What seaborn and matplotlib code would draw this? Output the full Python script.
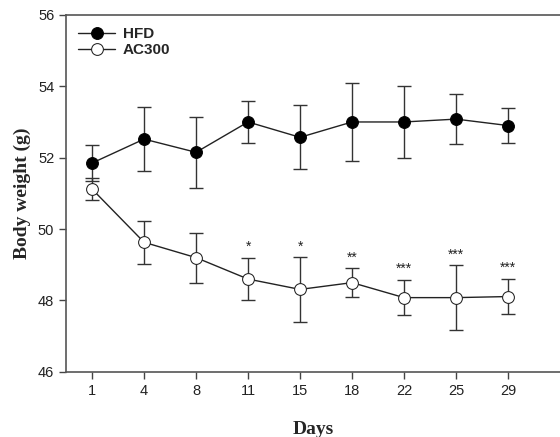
import pandas as pd
import numpy as np
import matplotlib
matplotlib.use("Agg")
import matplotlib.pyplot as plt
import seaborn as sns

# values
days = ["1", "4", "8", "11", "15", "18", "22", "25", "29"]
hfd_mean = [51.85, 52.52, 52.15, 53.0, 52.57, 53.0, 53.0, 53.08, 52.9]
hfd_err = [0.5, 0.9, 1.0, 0.6, 0.9, 1.1, 1.0, 0.7, 0.5]
ac_mean = [51.12, 49.63, 49.2, 48.6, 48.31, 48.5, 48.08, 48.08, 48.11]
ac_err = [0.3, 0.6, 0.7, 0.6, 0.9, 0.4, 0.5, 0.9, 0.5]
stars = ["", "", "", "*", "*", "**", "***", "***", "***"]

sns.set_style("ticks")
plt.rcParams['font.family'] = ['Liberation Sans', 'DejaVu Sans']

df = pd.DataFrame({
    "Days": days * 2,
    "Weight": hfd_mean + ac_mean,
    "Group": ["HFD"] * len(days) + ["AC300"] * len(days),
})

fig = plt.figure(figsize=(5.6, 4.37), dpi=100)
ax = fig.add_axes([0.118, 0.149, 0.882, 0.817])

# error bars first so markers sit on top
ax.errorbar(days, hfd_mean, yerr=hfd_err, fmt='none', ecolor='#333333',
            elinewidth=1, capsize=5, capthick=1, zorder=1)
ax.errorbar(days, ac_mean, yerr=ac_err, fmt='none', ecolor='#333333',
            elinewidth=1, capsize=5, capthick=1, zorder=1)

sns.lineplot(data=df[df.Group == "HFD"], x="Days", y="Weight", ax=ax,
             color='#222222', lw=1, marker='o', markersize=8.5,
             markerfacecolor='black', markeredgecolor='black',
             label="HFD", zorder=3, sort=False)
sns.lineplot(data=df[df.Group == "AC300"], x="Days", y="Weight", ax=ax,
             color='#222222', lw=1, marker='o', markersize=8.5,
             markerfacecolor='white', markeredgecolor='#222222',
             label="AC300", zorder=3, sort=False)

for i, s in enumerate(stars):
    if s:
        ax.text(i, ac_mean[i] + ac_err[i] + 0.1, s, ha='center', va='bottom',
                fontsize=10, color='#222222')

ax.set_ylim(46, 56)
ax.set_yticks([46, 48, 50, 52, 54, 56])
ax.set_xlim(-0.5, 9.0)
ax.tick_params(axis='both', labelsize=10.5, color='#444444', length=5, width=1,
               labelcolor='#222222')

ax.set_xlabel("Days", fontsize=14, fontweight='bold', family='Liberation Serif',
              labelpad=17)
ax.set_ylabel("Body weight (g)", fontsize=14, fontweight='bold',
              family='Liberation Serif', labelpad=5)

for side in ['left', 'bottom', 'top']:
    ax.spines[side].set_color('#555555')
    ax.spines[side].set_linewidth(1.2)
ax.spines['right'].set_visible(False)

leg = ax.legend(loc='upper left', frameon=False,
                prop={'weight': 'bold', 'size': 11}, handlelength=2.4,
                handletextpad=0.5, borderaxespad=0.4, labelspacing=0.15)

plt.savefig("out.png", dpi=100)
